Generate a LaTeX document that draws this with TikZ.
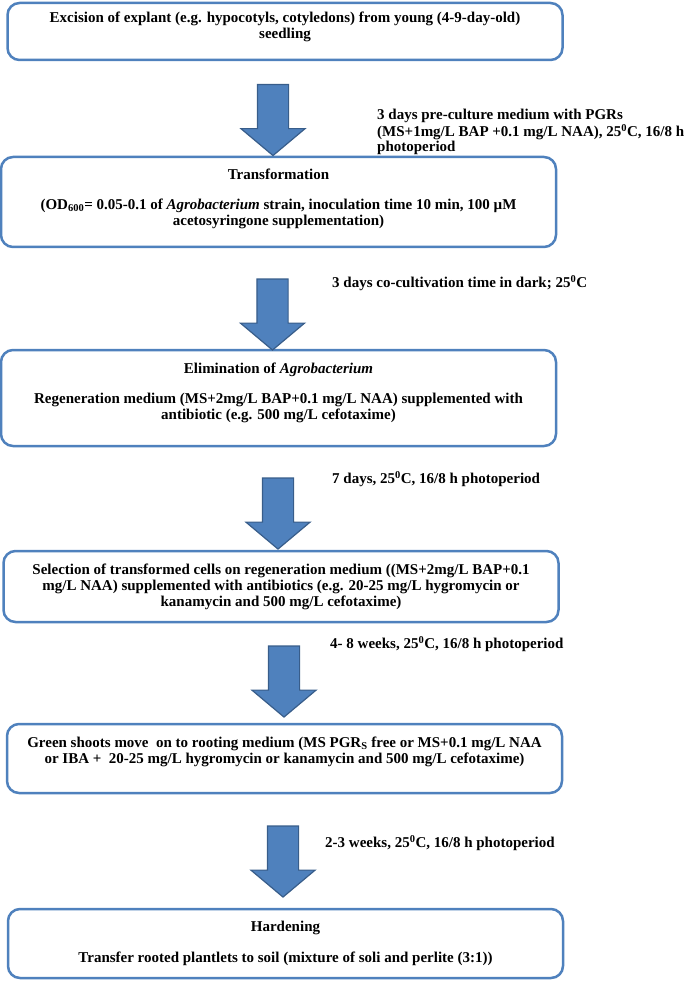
\documentclass[tikz,border=0pt]{standalone}
\usepackage{fontspec}
\setmainfont{Liberation Serif}
\usetikzlibrary{shapes.arrows,positioning}
\definecolor{boxblue}{RGB}{79,129,189}
\definecolor{arrowedge}{RGB}{56,93,138}
\tikzset{
	stage/.style={
		rectangle,
		rounded corners=12pt,
		line width=2.5pt,
		draw=boxblue,
		fill=white,
		align=center,
		inner sep=0pt,
		minimum width=555pt,
		font=\fontsize{15}{16}\selectfont\bfseries,
	},
	bigarrow/.style={
		single arrow,
		rotate=-90,
		draw=arrowedge,
		line width=1.2pt,
		fill=boxblue,
		inner xsep=0pt,
		inner ysep=15pt,
		minimum height=71pt,
		minimum width=63pt,
		single arrow head extend=16.5pt,
		single arrow head indent=0pt,
		single arrow tip angle=100,
	},
	note/.style={
		anchor=west,
		align=left,
		inner sep=0pt,
		font=\fontsize{15}{15}\selectfont\bfseries,
	},
}

\begin{document}
\begin{tikzpicture}[x=1pt, y=-1pt]
	\useasboundingbox (0,0) rectangle (685,981);
	
	\node [stage, minimum height=57pt] (explant) at (285,31.5) {Excision of explant (e.g. hypocotyls, cotyledons) from young (4-9-day-old)\\seedling\rule[-12pt]{0pt}{12pt}};
	\node [stage, minimum height=90pt] (transf) at (278.5,202) {Transformation\\[14pt](OD\textsubscript{600}= 0.05-0.1 of \textit{Agrobacterium} strain, inoculation time 10 min, 100 µM\\acetosyringone supplementation)\rule[-10pt]{0pt}{10pt}};
	\node [stage, minimum height=96pt] (elim) at (278.5,398) {Elimination of \textit{Agrobacterium}\\[14pt]Regeneration medium (MS+2mg/L BAP+0.1 mg/L NAA) supplemented with\\antibiotic (e.g. 500 mg/L cefotaxime)\rule[-13pt]{0pt}{13pt}};
	\node [stage, minimum height=71pt] (select) at (281,586.5) {Selection of transformed cells on regeneration medium ((MS+2mg/L BAP+0.1\\mg/L NAA) supplemented with antibiotics (e.g. 20-25 mg/L hygromycin or\\kanamycin and 500 mg/L cefotaxime)};
	\node [stage, minimum height=69pt] (root) at (284.5,758.5) {Green shoots move\ \ on to rooting medium (MS PGR\textsubscript{S} free or MS+0.1 mg/L NAA\\or IBA +\ \ 20-25 mg/L hygromycin or kanamycin and 500 mg/L cefotaxime)\rule[-17pt]{0pt}{17pt}};
	\node [stage, minimum height=69pt] (harden) at (285.5,943.5) {Hardening\\[15pt]Transfer rooted plantlets to soil (mixture of soli and perlite (3:1))};
	
	\node [bigarrow] (a1) at (273,113.5) {};
	\node [bigarrow] (a2) at (272.5,308) {};
	\node [bigarrow] (a3) at (278,507) {};
	\node [bigarrow] (a4) at (284,675) {};
	\node [bigarrow] (a5) at (283,855) {};
	
	\node [note] (n1) at (377,132) {3 days pre-culture medium with PGRs\\(MS+1mg/L BAP +0.1 mg/L NAA), 25\textsuperscript{0}C, 16/8 h\\photoperiod};
	\node [note] (n2) at (332,283) {3 days co-cultivation time in dark; 25\textsuperscript{0}C};
	\node [note] (n3) at (332,479) {7 days, 25\textsuperscript{0}C, 16/8 h photoperiod};
	\node [note] (n4) at (330,644) {4- 8 weeks, 25\textsuperscript{0}C, 16/8 h photoperiod};
	\node [note] (n5) at (325,843) {2-3 weeks, 25\textsuperscript{0}C, 16/8 h photoperiod};
\end{tikzpicture}
\end{document}
